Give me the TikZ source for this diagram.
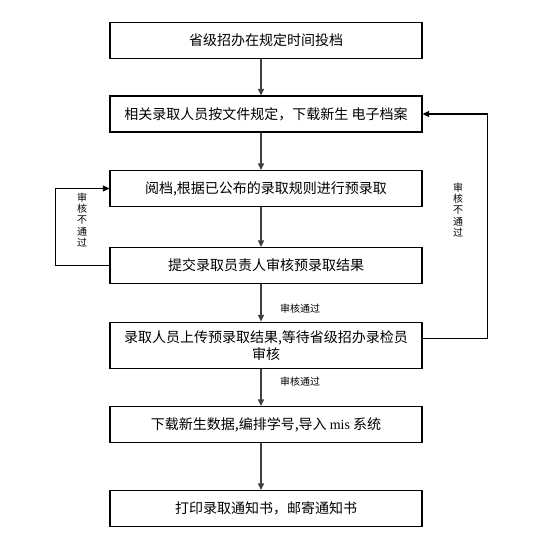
\documentclass[tikz,border=0pt]{standalone}
\usepackage{fontspec}
\setmainfont{Noto Sans CJK SC}
\newfontfamily\latinserif{Liberation Serif}
\usepackage{xcolor}
\definecolor{flowline}{HTML}{404040}
\usepackage{tikz}
\usetikzlibrary{arrows.meta, positioning, calc}

\begin{document}
\begin{tikzpicture}[x=0.75pt, y=-0.75pt,
  stepbox/.style={rectangle, draw=black, line width=0.8pt, fill=white,
    minimum width=234pt, minimum height=27pt, align=center, inner sep=2pt,
    font=\fontsize{10.5pt}{12.8pt}\selectfont},
  flow/.style={draw=flowline, line width=1.1pt,
    -{Triangle[length=5pt, width=4.5pt]}},
  loop/.style={draw=black, line width=0.8pt,
    -{Triangle[length=5pt, width=4.5pt]}},
  note/.style={font=\fontsize{7.5pt}{8.3pt}\selectfont, align=center, inner sep=1pt}]
\useasboundingbox (0,0) rectangle (533,557);
% main steps
\node[stepbox] (intake) at (266,40.5) {省级招办在规定时间投档};
\node[stepbox] (download) at (266,114) {相关录取人员按文件规定，下载新生 电子档案};
\node[stepbox] (preselect) at (266,188.5) {阅档,根据已公布的录取规则进行预录取};
\node[stepbox] (submit) at (266,265.5) {提交录取员责人审核预录取结果};
\node[stepbox, minimum height=35pt] (upload) at (266,345.5)
  {录取人员上传预录取结果,等待省级招办录检员\\审核};
\node[stepbox] (import) at (266,424.5)
  {下载新生数据,编排学号,导入 {\latinserif mis} 系统};
\node[stepbox] (notice) at (266,508.5) {打印录取通知书，邮寄通知书};
% forward flow, slightly left of the box centres
\foreach \from/\to in {intake/download, download/preselect, preselect/submit,
                       submit/upload, upload/import, import/notice}
  \draw[flow] ([xshift=-3.75pt]\from.south) -- ([xshift=-3.75pt]\to.north);
\node[note] (passA) at (300,309) {审核通过};
\node[note] (passB) at (300,382) {审核通过};
% rejection loops
\draw[loop] (submit.west) -- ++(-54,0) |- (preselect.west);
\draw[loop] ([yshift=5.5pt]upload.east) -- ++(65,0) |- (download.east);
\node[note] (failA) at (82,220) {审\\核\\不\\通\\过};
\node[note] (failB) at (458,210) {审\\核\\不\\通\\过};
\end{tikzpicture}
\end{document}
